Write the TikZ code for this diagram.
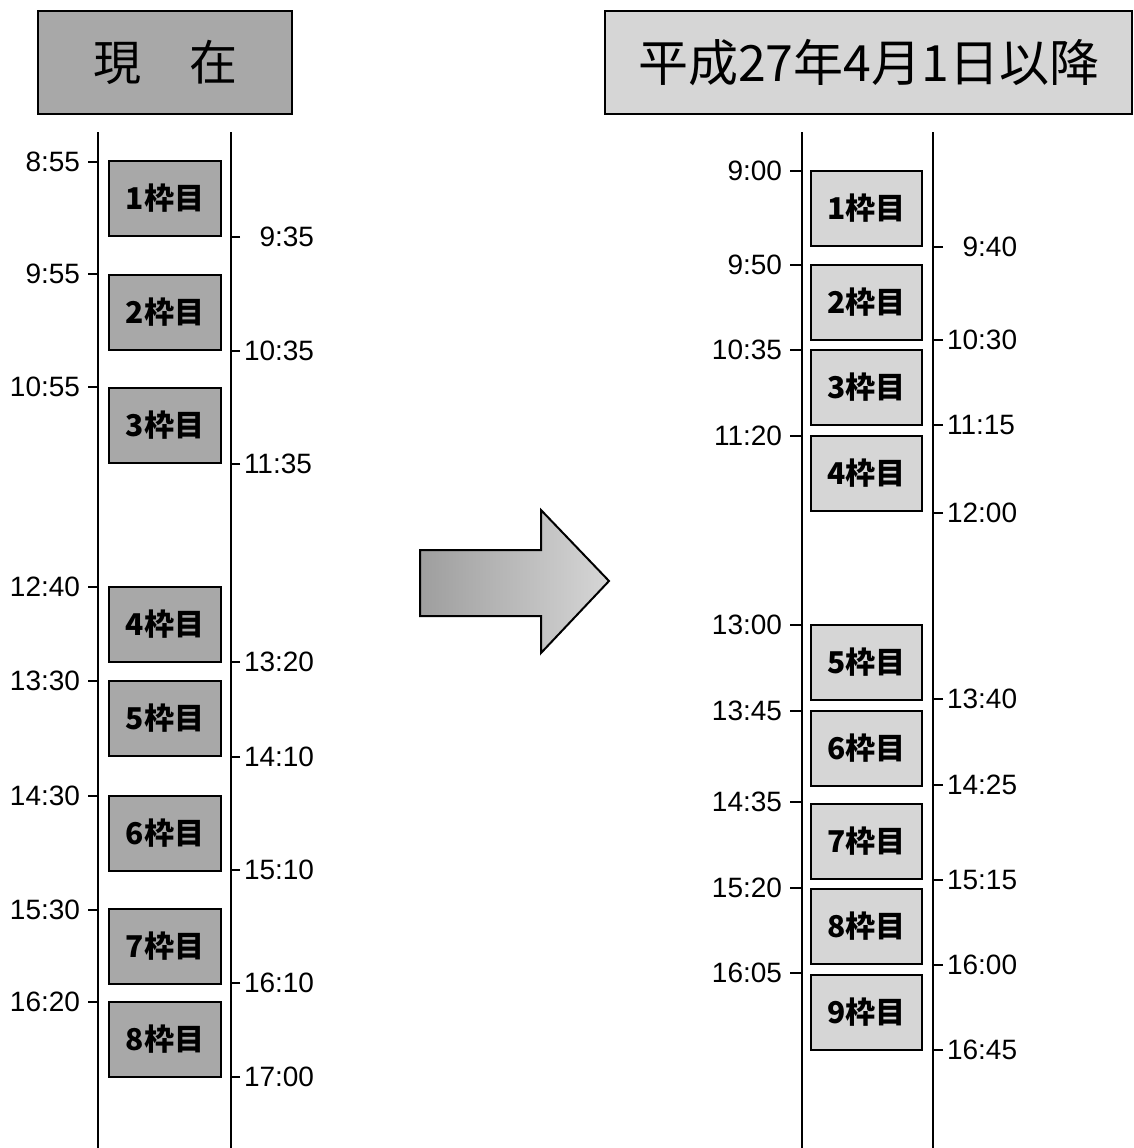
\documentclass[tikz,border=0pt]{standalone}
\usepackage{fontspec}
\setmainfont{Liberation Sans}
\newfontfamily\jpfont{Noto Sans CJK JP}
\usepackage{xcolor}
\usetikzlibrary{calc}

\definecolor{slotdark}{RGB}{168,168,168}
\definecolor{slotlight}{RGB}{214,214,214}
\definecolor{arrowleft}{RGB}{158,158,158}
\definecolor{arrowright}{RGB}{214,214,214}

\tikzset{
    titlebox/.style={draw, rectangle, line width=2pt, inner sep=0pt, minimum height=103pt, font=\jpfont\fontsize{48}{48}\selectfont},
    slot/.style={draw, rectangle, line width=2pt, minimum height=75pt, font=\jpfont\bfseries\fontsize{30}{30}\selectfont},
    timeS/.style={anchor=east, inner xsep=7pt, inner ysep=0pt, font=\fontsize{28}{28}\selectfont},
    timeE/.style={anchor=west, inner xsep=3pt, inner ysep=0pt, font=\fontsize{28}{28}\selectfont},
}

\begin{document}
\begin{tikzpicture}[x=1pt, y=-1pt, line width=2pt]
    \useasboundingbox (0,0) rectangle (1134,1148);

    % titles
    \node[titlebox, fill=slotdark, minimum width=254pt] (nowTitle) at (165,62.5) {現　在};
    \node[titlebox, fill=slotlight, minimum width=527pt, font=\jpfont\fontsize{50}{50}\selectfont] (newTitle) at (868.5,62.5) {平成27年4月1日以降};

    % time axes
    \coordinate (nowL) at (98,132);
    \coordinate (nowR) at (231,132);
    \coordinate (newL) at (802,132);
    \coordinate (newR) at (933,132);
    \draw (nowL) -- (nowL |- 0,1148);
    \draw (nowR) -- (nowR |- 0,1148);
    \draw (newL) -- (newL |- 0,1148);
    \draw (newR) -- (newR |- 0,1148);

    % current slots
    \node[slot, fill=slotdark, minimum width=112pt] (now1) at (165,198.5) {1枠目};
    \node[slot, fill=slotdark, minimum width=112pt] (now2) at (165,312.5) {2枠目};
    \node[slot, fill=slotdark, minimum width=112pt] (now3) at (165,425.5) {3枠目};
    \node[slot, fill=slotdark, minimum width=112pt] (now4) at (165,624.5) {4枠目};
    \node[slot, fill=slotdark, minimum width=112pt] (now5) at (165,718.5) {5枠目};
    \node[slot, fill=slotdark, minimum width=112pt] (now6) at (165,833) {6枠目};
    \node[slot, fill=slotdark, minimum width=112pt] (now7) at (165,946) {7枠目};
    \node[slot, fill=slotdark, minimum width=112pt] (now8) at (165,1039.5) {8枠目};

    \node[timeS] (nowS1) at (88,162) {8:55};
    \node[timeS] (nowS2) at (88,274) {9:55};
    \node[timeS] (nowS3) at (88,387) {10:55};
    \node[timeS] (nowS4) at (88,587) {12:40};
    \node[timeS] (nowS5) at (88,681) {13:30};
    \node[timeS] (nowS6) at (88,796) {14:30};
    \node[timeS] (nowS7) at (88,910) {15:30};
    \node[timeS] (nowS8) at (88,1002) {16:20};

    \node[timeE] (nowE1) at (240,237) {\phantom{1}9:35};
    \node[timeE] (nowE2) at (240,351) {10:35};
    \node[timeE] (nowE3) at (240,464) {11:35};
    \node[timeE] (nowE4) at (240,662) {13:20};
    \node[timeE] (nowE5) at (240,757) {14:10};
    \node[timeE] (nowE6) at (240,870) {15:10};
    \node[timeE] (nowE7) at (240,983) {16:10};
    \node[timeE] (nowE8) at (240,1077) {17:00};

    % slots from April 2015
    \node[slot, fill=slotlight, minimum width=111pt] (new1) at (866.5,208.5) {1枠目};
    \node[slot, fill=slotlight, minimum width=111pt] (new2) at (866.5,302) {2枠目};
    \node[slot, fill=slotlight, minimum width=111pt] (new3) at (866.5,387.5) {3枠目};
    \node[slot, fill=slotlight, minimum width=111pt] (new4) at (866.5,473.5) {4枠目};
    \node[slot, fill=slotlight, minimum width=111pt] (new5) at (866.5,662) {5枠目};
    \node[slot, fill=slotlight, minimum width=111pt] (new6) at (866.5,748) {6枠目};
    \node[slot, fill=slotlight, minimum width=111pt] (new7) at (866.5,841) {7枠目};
    \node[slot, fill=slotlight, minimum width=111pt] (new8) at (866.5,926.5) {8枠目};
    \node[slot, fill=slotlight, minimum width=111pt] (new9) at (866.5,1012) {9枠目};

    \node[timeS] (newS1) at (790,171) {9:00};
    \node[timeS] (newS2) at (790,265) {9:50};
    \node[timeS] (newS3) at (790,350) {10:35};
    \node[timeS] (newS4) at (790,436) {11:20};
    \node[timeS] (newS5) at (790,625) {13:00};
    \node[timeS] (newS6) at (790,711) {13:45};
    \node[timeS] (newS7) at (790,802) {14:35};
    \node[timeS] (newS8) at (790,888) {15:20};
    \node[timeS] (newS9) at (790,973) {16:05};

    \node[timeE] (newE1) at (943,247) {\phantom{1}9:40};
    \node[timeE] (newE2) at (943,340) {10:30};
    \node[timeE] (newE3) at (943,425) {11:15};
    \node[timeE] (newE4) at (943,513) {12:00};
    \node[timeE] (newE5) at (943,699) {13:40};
    \node[timeE] (newE6) at (943,785) {14:25};
    \node[timeE] (newE7) at (943,880) {15:15};
    \node[timeE] (newE8) at (943,965) {16:00};
    \node[timeE] (newE9) at (943,1050) {16:45};

    % ticks
    \foreach \i in {1,...,8} {
        \draw (nowS\i.east) -- (nowS\i.east -| nowL);
        \draw (nowE\i.west) -- (nowE\i.west -| nowR);
    }
    \foreach \i in {1,...,9} {
        \draw (newS\i.east) -- (newS\i.east -| newL);
        \draw (newE\i.west) -- (newE\i.west -| newR);
    }

    % big arrow
    \draw[left color=arrowleft, right color=arrowright, line join=miter]
        (420,550) -- (541,550) -- (541,510) -- (609,581) -- (541,653) -- (541,616) -- (420,616) -- cycle;
\end{tikzpicture}
\end{document}
